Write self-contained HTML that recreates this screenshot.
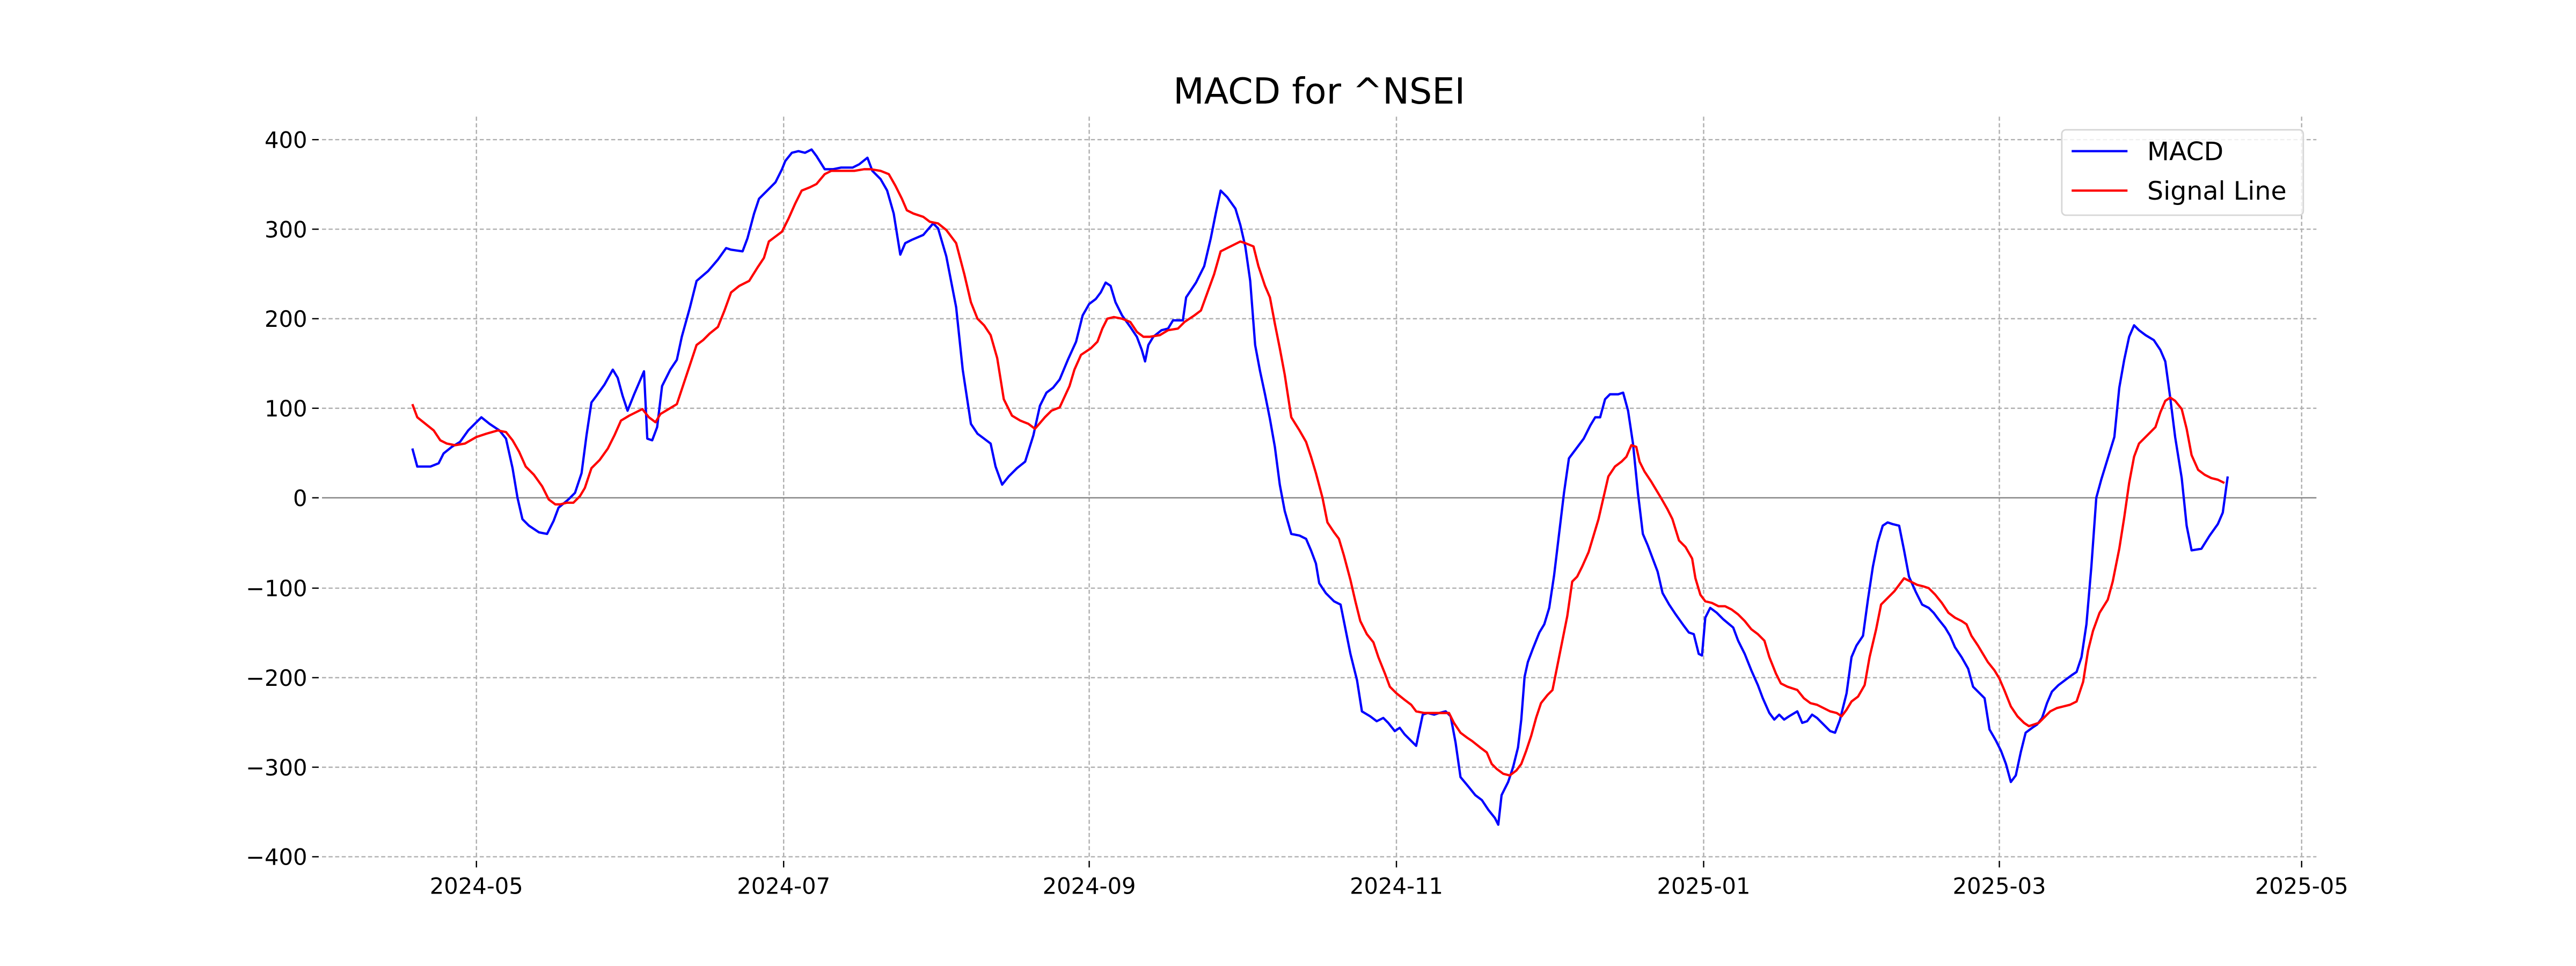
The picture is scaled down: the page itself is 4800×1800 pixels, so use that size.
<!DOCTYPE html>
<html><head><meta charset="utf-8"><style>html,body{margin:0;padding:0;background:#fff}svg{display:block}</style></head>
<body>
<svg xmlns="http://www.w3.org/2000/svg" width="4800" height="1800" viewBox="0 0 1568 588" font-family="DejaVu Sans, Liberation Sans, sans-serif">
<rect width="1568" height="588" fill="#fff"/>
<g stroke="#b0b0b0" stroke-width="0.8" stroke-dasharray="2.5,1.5" fill="none">
<line x1="196" x2="1410" y1="85" y2="85"/><line x1="196" x2="1410" y1="139.5" y2="139.5"/><line x1="196" x2="1410" y1="194" y2="194"/><line x1="196" x2="1410" y1="248.5" y2="248.5"/><line x1="196" x2="1410" y1="358" y2="358"/><line x1="196" x2="1410" y1="412.5" y2="412.5"/><line x1="196" x2="1410" y1="467" y2="467"/><line x1="196" x2="1410" y1="521.5" y2="521.5"/>
<line x1="290" x2="290" y1="71" y2="523"/><line x1="477" x2="477" y1="71" y2="523"/><line x1="663" x2="663" y1="71" y2="523"/><line x1="850" x2="850" y1="71" y2="523"/><line x1="1037" x2="1037" y1="71" y2="523"/><line x1="1217" x2="1217" y1="71" y2="523"/><line x1="1401" x2="1401" y1="71" y2="523"/>
</g>
<line x1="196" x2="1410" y1="303" y2="303" stroke="#808080" stroke-width="0.8"/>
<g stroke="#000" stroke-width="0.8">
<line x1="190" x2="194" y1="85" y2="85"/><line x1="190" x2="194" y1="139.5" y2="139.5"/><line x1="190" x2="194" y1="194" y2="194"/><line x1="190" x2="194" y1="248.5" y2="248.5"/><line x1="190" x2="194" y1="303" y2="303"/><line x1="190" x2="194" y1="358" y2="358"/><line x1="190" x2="194" y1="412.5" y2="412.5"/><line x1="190" x2="194" y1="467" y2="467"/><line x1="190" x2="194" y1="521.5" y2="521.5"/>
<line x1="290" x2="290" y1="524" y2="528"/><line x1="477" x2="477" y1="524" y2="528"/><line x1="663" x2="663" y1="524" y2="528"/><line x1="850" x2="850" y1="524" y2="528"/><line x1="1037" x2="1037" y1="524" y2="528"/><line x1="1217" x2="1217" y1="524" y2="528"/><line x1="1401" x2="1401" y1="524" y2="528"/>
</g>
<g font-size="13.6" text-anchor="end" fill="#000">
<text x="187" y="90">400</text><text x="187" y="144.5">300</text><text x="187" y="199">200</text><text x="187" y="253.5">100</text><text x="187" y="308">0</text><text x="187" y="363">−100</text><text x="187" y="417.5">−200</text><text x="187" y="472">−300</text><text x="187" y="526.5">−400</text>
</g>
<g font-size="13.6" text-anchor="middle" fill="#000">
<text x="290" y="544">2024-05</text><text x="477" y="544">2024-07</text><text x="663" y="544">2024-09</text><text x="850" y="544">2024-11</text><text x="1037" y="544">2025-01</text><text x="1217" y="544">2025-03</text><text x="1401" y="544">2025-05</text>
</g>
<text x="803" y="63" font-size="21.8" text-anchor="middle">MACD for ^NSEI</text>
<polyline fill="none" stroke="#0000ff" stroke-width="1.4" stroke-linejoin="round" points="251,273 254,284 262,284 267,282 270,276 275,272 280,269 285,262 289,258 293,254 298,258 304,262 308,267 312,285 315,303 318,316 322,320 328,324 333,325 337,317 340,309 346,304 350,300 354,288 357,265 360,245 363,241 368,234 373,225 376,230 379,241 382,250 386,240 392,226 394,267 397,268 400,260 403,235 408,225 412,219 415,205 420,187 424,171 431,165 437,158 442,151 445,152 452,153 455,145 459,130 462,121 467,116 472,111 476,103 478,98 482,93 486,92 490,93 494,91 497,95 502,103 507,103 512,102 519,102 523,100 528,96 531,104 536,109 540,116 544,130 548,155 551,148 555,146 562,143 568,136 571,139 576,156 582,187 586,225 591,258 595,264 599,267 603,270 606,284 610,295 614,290 619,285 624,281 629,265 633,247 637,239 641,236 645,231 650,219 655,208 659,192 663,185 667,182 670,178 673,172 676,174 679,184 683,192 688,199 692,205 695,213 697,220 699,210 702,205 707,201 711,200 714,195 720,195 722,181 728,172 733,162 737,145 740,130 743,116 747,120 752,127 755,137 758,150 761,171 764,210 767,226 770,240 773,255 776,272 779,295 782,311 786,325 791,326 795,328 798,335 801,343 803,355 807,361 812,366 816,368 819,383 822,398 826,414 829,433 834,436 838,439 842,437 845,440 849,445 852,443 855,447 859,451 862,454 866,435 869,434 873,435 876,434 880,433 883,436 886,452 889,473 894,479 898,484 902,487 906,493 910,498 912,502 914,484 918,476 921,467 924,455 926,438 928,412 930,403 933,395 937,385 940,380 943,370 946,350 949,325 952,300 955,279 958,275 961,271 964,267 968,259 971,254 974,254 977,243 980,240 985,240 988,239 991,250 994,270 997,300 1000,325 1003,332 1006,340 1009,348 1012,361 1016,368 1020,374 1025,381 1028,385 1031,386 1034,398 1036,399 1038,376 1041,370 1045,373 1049,377 1055,382 1058,390 1062,398 1066,408 1070,417 1073,425 1077,434 1080,438 1083,435 1086,438 1089,436 1094,433 1097,440 1100,439 1103,435 1106,437 1110,441 1114,445 1117,446 1120,438 1124,422 1127,400 1130,393 1134,387 1137,365 1140,345 1143,330 1146,320 1149,318 1152,319 1156,320 1159,335 1162,351 1166,360 1170,368 1174,370 1177,373 1180,377 1184,382 1187,387 1190,394 1194,400 1198,407 1201,418 1205,422 1208,425 1211,444 1215,451 1218,457 1221,465 1224,476 1227,472 1230,458 1233,446 1237,443 1240,441 1243,437 1246,428 1249,421 1253,417 1257,414 1261,411 1264,409 1267,400 1270,380 1273,345 1276,303 1279,292 1283,279 1287,266 1290,236 1293,219 1296,205 1299,198 1302,201 1306,204 1311,207 1315,213 1318,220 1321,242 1324,266 1328,291 1331,320 1334,335 1340,334 1345,326 1350,319 1353,312 1356,290"/>
<polyline fill="none" stroke="#ff0000" stroke-width="1.4" stroke-linejoin="round" points="251,246 254,254 259,258 264,262 268,268 272,270 277,271 283,270 290,266 296,264 303,262 308,263 312,268 316,275 320,284 325,289 330,296 334,304 338,307 341,307 345,306 349,306 353,302 356,297 360,285 365,280 370,273 374,265 378,256 383,253 387,251 391,249 395,254 399,257 402,252 407,249 412,246 416,234 420,222 424,210 428,207 432,203 437,199 441,189 445,178 450,174 456,171 461,163 465,157 468,147 472,144 476,141 480,133 484,124 488,116 493,114 497,112 502,106 506,104 511,104 520,104 526,103 530,103 536,104 541,106 545,113 549,121 552,128 556,130 562,132 566,135 571,136 576,140 582,148 587,167 591,184 595,194 599,198 603,204 607,218 611,243 616,253 621,256 626,258 630,261 636,254 640,250 645,248 651,235 654,225 658,216 664,212 668,208 671,200 674,194 678,193 683,194 688,196 692,202 696,205 700,205 706,204 711,201 717,200 721,196 727,192 731,189 735,178 739,167 743,153 747,151 751,149 755,147 758,148 763,150 766,162 770,174 773,181 776,197 779,212 782,228 786,254 791,262 795,269 798,278 801,288 805,303 808,318 812,324 815,328 818,338 822,353 825,366 828,378 832,386 836,391 839,400 843,410 846,418 850,422 855,426 859,429 862,433 867,434 870,434 874,434 878,434 882,434 885,440 889,446 893,449 896,451 901,455 905,458 908,465 911,468 915,471 919,472 923,469 926,465 929,457 932,448 935,437 938,428 942,423 945,420 948,405 951,390 954,375 957,354 960,351 963,345 967,336 970,326 973,316 976,303 979,290 983,284 987,281 990,278 993,271 996,272 998,281 1001,287 1005,293 1008,298 1011,303 1015,310 1018,316 1022,329 1026,333 1030,340 1032,352 1035,362 1038,366 1042,367 1046,369 1050,369 1054,371 1058,374 1062,378 1066,383 1070,386 1074,390 1077,400 1081,410 1084,416 1088,418 1094,420 1098,425 1102,428 1106,429 1110,431 1114,433 1118,434 1121,436 1124,432 1127,427 1131,424 1135,417 1138,400 1142,383 1145,368 1149,364 1153,360 1156,356 1159,352 1163,354 1167,356 1171,357 1174,358 1178,362 1182,367 1186,373 1190,376 1194,378 1197,380 1200,387 1204,393 1207,398 1210,403 1214,408 1217,413 1220,420 1224,430 1228,436 1232,440 1235,442 1238,441 1241,440 1244,437 1248,433 1252,431 1256,430 1260,429 1264,427 1268,415 1271,396 1274,384 1278,373 1283,365 1286,354 1290,334 1293,315 1296,294 1299,278 1302,270 1305,267 1309,263 1312,260 1315,251 1318,244 1321,242 1324,244 1328,249 1331,261 1334,277 1338,286 1342,289 1346,291 1350,292 1354,294"/>
<rect x="1255" y="79" width="147" height="52" rx="2.5" fill="#fff" fill-opacity="0.8" stroke="#d6d6d6" stroke-width="0.9"/>
<line x1="1261" x2="1295" y1="92" y2="92" stroke="#0000ff" stroke-width="1.4"/>
<line x1="1261" x2="1295" y1="116" y2="116" stroke="#ff0000" stroke-width="1.4"/>
<text x="1307" y="97.5" font-size="15.5">MACD</text>
<text x="1307" y="121.5" font-size="15.5">Signal Line</text>
</svg>
</body></html>
